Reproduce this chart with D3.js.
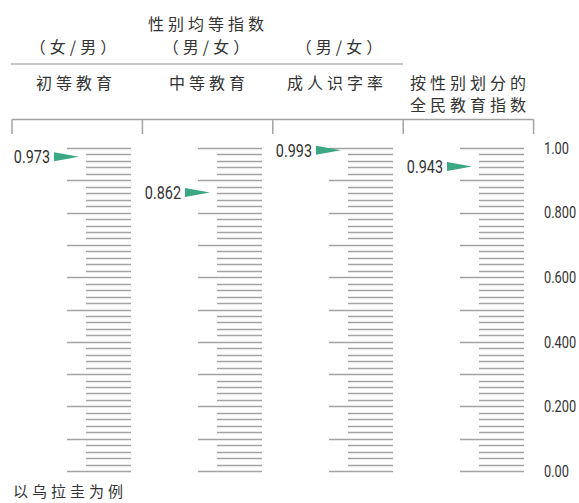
<!DOCTYPE html>
<html>
<head>
<meta charset="utf-8">
<script src="https://cdn.jsdelivr.net/npm/d3@7"></script>
<style>
  html, body { margin: 0; padding: 0; background: #fff; }
  svg { display: block; }
  .cjk { font-family: "Noto Sans CJK SC", sans-serif; font-size: 16px; fill: #333; letter-spacing: 4px; }
  .num { font-family: "Roboto", sans-serif; font-size: 18px; fill: #333; }
</style>
</head>
<body>
<script>
// ---- data ----
const categories = ["初等教育", "中等教育", "成人识字率", "按性别划分的|全民教育指数"];
const ratioLabels = ["（女/男）", "（男/女）", "（男/女）", ""];
const groupTitle = "性别均等指数";
const values = [0.973, 0.862, 0.993, 0.943];
const valueLabels = ["0.973", "0.862", "0.993", "0.943"];
const axisTicks = [1.0, 0.8, 0.6, 0.4, 0.2, 0.0];
const axisTickLabels = ["1.00", "0.800", "0.600", "0.400", "0.200", "0.00"];
const footnote = "以乌拉圭为例";

// ---- layout ----
const W = 579, H = 503;
const svg = d3.select("body").append("svg").attr("width", W).attr("height", H);

const y = d3.scaleLinear().domain([0, 1]).range([471, 148]);
const colX = d3.scaleLinear().domain([0, 1]).range([67, 198]); // major tick start per column
const boxX = d3.scaleLinear().domain([0, 1]).range([12, 142.4]);
const colCenter = d3.scaleLinear().domain([0, 1]).range([74, 207]);

const tickColor = "#a3a3a3";
const green = "#3aa883";
const SX = 0.8; // condensed number font

function numText(x, yy, str, anchor, size) {
  svg.append("g").attr("transform", `translate(${x},${yy}) scale(${SX},1)`)
    .append("text").attr("class", "num").attr("dy", "0.36em")
    .style("font-size", size + "px")
    .attr("text-anchor", anchor).text(str);
}

// header texts
svg.append("text").attr("class", "cjk").attr("x", 208).attr("y", 30)
  .attr("text-anchor", "middle").text(groupTitle);
ratioLabels.forEach((t, i) => {
  if (!t) return;
  svg.append("text").attr("class", "cjk").attr("x", colCenter(i) + 1).attr("y", 53)
    .attr("text-anchor", "middle").attr("letter-spacing", "0px").text(t);
});
svg.append("line").attr("x1", 11).attr("x2", 403).attr("y1", 64).attr("y2", 64)
  .attr("stroke", "#b5b5b5").attr("stroke-width", 1.5);

categories.forEach((c, i) => {
  const parts = c.split("|");
  parts.forEach((p, j) => {
    svg.append("text").attr("class", "cjk")
      .attr("x", i === 3 ? 470 : colCenter(i) + (i === 2 ? -3 : 2))
      .attr("y", 89 + j * 22)
      .attr("text-anchor", "middle").text(p);
  });
});

// bracket box
svg.append("line").attr("x1", boxX(0)).attr("x2", boxX(4)).attr("y1", 119.5).attr("y2", 119.5)
  .attr("stroke", tickColor).attr("stroke-width", 1.5);
d3.range(5).forEach(i => {
  svg.append("line").attr("x1", boxX(i)).attr("x2", boxX(i)).attr("y1", 119.5).attr("y2", 134)
    .attr("stroke", tickColor).attr("stroke-width", 1.5);
});

// scales per column
const tickVals = d3.range(0, 51).map(k => k / 50);
categories.forEach((c, i) => {
  const x0 = colX(i);
  const g = svg.append("g");
  g.selectAll("line").data(tickVals).join("line")
    .attr("x1", (d, k) => k % 5 === 0 ? x0 : x0 + 19)
    .attr("x2", x0 + 64)
    .attr("y1", d => Math.round(y(d)) + 0.5)
    .attr("y2", d => Math.round(y(d)) + 0.5)
    .attr("stroke", tickColor).attr("stroke-width", 1.4);

  // pointer
  const tip = x0 + 12, yy = y(values[i]);
  svg.append("path")
    .attr("d", `M${tip - 25},${yy - 4.5}L${tip},${yy}L${tip - 25},${yy + 4.5}Z`)
    .attr("fill", green);
  numText(tip - 29, yy, valueLabels[i], "end", 18);
});

// right axis labels
axisTicks.forEach((v, i) => numText(544, y(v), axisTickLabels[i], "start", 16));

// footnote
svg.append("text").attr("class", "cjk").attr("x", 13).attr("y", 497)
  .style("font-size", "15px").attr("letter-spacing", "3px").text(footnote);
</script>
</body>
</html>
